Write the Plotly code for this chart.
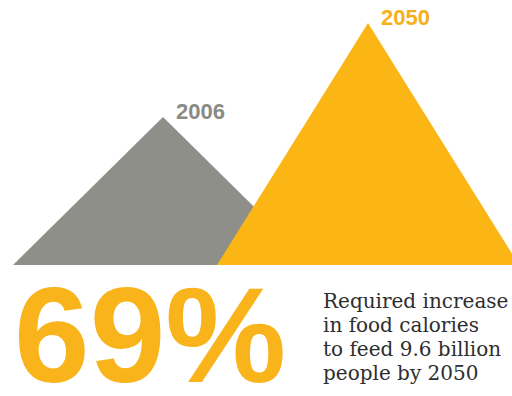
import plotly.graph_objects as go

years = ["2006", "2050"]
peak_heights = [148, 242]          # triangle heights
peak_centers = [163, 368]          # x of apex
half_widths = [150, 151]           # half base width
colors = ["#8e8f88", "#fbb514"]
label_colors = ["#8a8a86", "#f6b01c"]

headline = "69%"
caption_lines = ["Required increase", "in food calories", "to feed 9.6 billion", "people by 2050"]

W, H = 512, 396
BASE_PX = 265

fig = go.Figure()
for yr, h, c, hw, col, lcol in zip(years, peak_heights, peak_centers, half_widths, colors, label_colors):
    fig.add_trace(go.Scatter(
        x=[c - hw, c, c + hw, c - hw],
        y=[0, h, 0, 0],
        fill="toself", fillcolor=col, mode="lines",
        line=dict(width=0, color=col), hoverinfo="skip", showlegend=False,
    ))
    fig.add_annotation(x=c, y=h, text="<b>" + yr + "</b>", showarrow=False,
                       xanchor="left", yanchor="bottom", xshift=11, yshift=-9,
                       font=dict(family="Liberation Sans", size=22, color=lcol))

fig.add_annotation(xref="paper", yref="paper", x=12 / W, y=1 - 413 / H,
                   text="<b>" + headline + "</b>", showarrow=False,
                   xanchor="left", yanchor="bottom",
                   font=dict(family="Liberation Sans", size=136, color="#f9b31b"))
for i, line in enumerate(caption_lines):
    fig.add_annotation(xref="paper", yref="paper", x=321 / W, y=1 - (287 + 24 * i) / H,
                       text=line, showarrow=False, align="left",
                       xanchor="left", yanchor="top",
                       font=dict(family="DejaVu Serif", size=20, color="#2e2e2e"))

fig.update_xaxes(range=[0, W], visible=False, fixedrange=True)
fig.update_yaxes(range=[0, BASE_PX], visible=False, fixedrange=True,
                 domain=[1 - BASE_PX / H, 1])
fig.update_layout(width=W, height=H, margin=dict(l=0, r=0, t=0, b=0),
                  plot_bgcolor="white", paper_bgcolor="white")
fig.write_html("out.html")
